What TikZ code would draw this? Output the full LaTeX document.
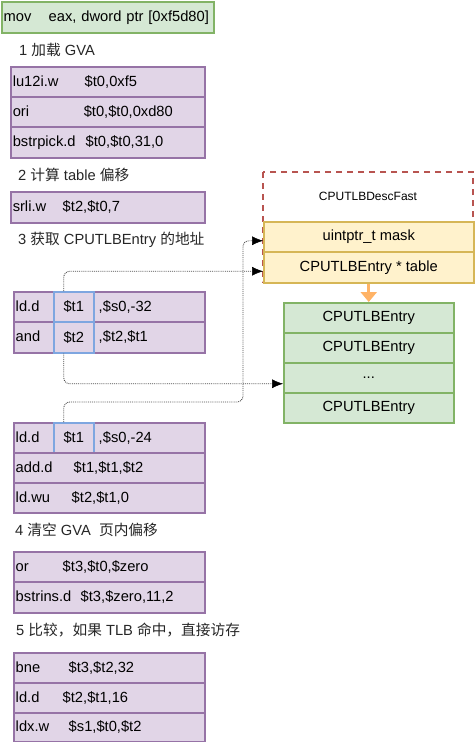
\documentclass[tikz,border=0pt]{standalone}
\usepackage{fontspec}
\setmainfont{Liberation Sans}
\newfontfamily\cjk{Noto Sans CJK SC}
\usetikzlibrary{arrows.meta}

\definecolor{asmfill}{HTML}{E1D5E7}
\definecolor{asmline}{HTML}{9673A6}
\definecolor{regline}{HTML}{7EA6E0}
\definecolor{entfill}{HTML}{D5E8D4}
\definecolor{entline}{HTML}{82B366}
\definecolor{fldfill}{HTML}{FFF2CC}
\definecolor{fldline}{HTML}{D6B656}
\definecolor{descline}{HTML}{B85450}
\definecolor{feedcol}{HTML}{FFB366}

\tikzset{
	txt/.style={font=\fontsize{14.7}{17}\selectfont},
	asm/.style={txt, draw=asmline, fill=asmfill, line width=1.5pt, anchor=north west,
		minimum height=30pt, inner xsep=2pt, inner ysep=0pt, align=left},
	reg/.style={txt, draw=regline, line width=1.5pt, anchor=north west,
		minimum width=40pt, minimum height=30pt, inner sep=0pt},
	ent/.style={txt, draw=entline, fill=entfill, line width=1.5pt, anchor=north west,
		minimum width=170pt, minimum height=30pt},
	fld/.style={txt, draw=fldline, fill=fldfill, line width=1.5pt, anchor=north west,
		minimum width=210pt, minimum height=30pt},
	note/.style={txt, anchor=west, inner sep=0pt, text=black!85},
	link/.style={densely dotted, draw=black!70, line width=0.9pt,
		-{Latex[length=11pt,width=9pt,color=black,line width=0.5pt,sharp]}},
	feed/.style={draw=feedcol, line width=3pt, -{Triangle[length=10pt,width=16pt,sharp]}}
}

\begin{document}
\begin{tikzpicture}[x=1pt,y=-1pt]
	\useasboundingbox (0,0) rectangle (475,742);

	% guest instruction
	\node[asm, draw=entline, fill=entfill, text width=208pt, minimum height=31pt] (mov) at (1,1)
		{\makebox[45pt][l]{mov}eax, dword ptr [0xf5d80]};

	% 1
	\node[note] (s1) at (19,50) {1 {\cjk 加载} GVA};
	\node[asm, text width=190pt] (lui) at (10,66) {\makebox[72pt][l]{lu12i.w}\$t0,0xf5};
	\node[asm, text width=190pt] (ori) at (10,96) {\makebox[71pt][l]{ori}\$t0,\$t0,0xd80};
	\node[asm, text width=190pt, minimum height=31pt] (bpick) at (10,126) {\makebox[73pt][l]{bstrpick.d}\$t0,\$t0,31,0};

	% 2
	\node[note] (s2) at (18,175) {2 {\cjk 计算} table {\cjk 偏移}};
	\node[asm, text width=190pt, minimum height=31pt] (srli) at (10,191) {\makebox[50pt][l]{srli.w}\$t2,\$t0,7};

	% 3
	\node[note] (s3) at (18,240) {3 {\cjk 获取} CPUTLBEntry {\cjk 的地址}};
	\node[asm, text width=187pt] (ldfast) at (13,291) {\makebox[83pt][l]{ld.d},\$s0,-32};
	\node[asm, text width=187pt, minimum height=31pt] (andr) at (13,321) {\makebox[83pt][l]{and},\$t2,\$t1};
	\node[reg] (t1a) at (53,291) {\$t1};
	\node[reg, minimum height=31pt] (t2a) at (53,321) {\$t2};

	\node[asm, text width=187pt] (ldtab) at (13,422) {\makebox[83pt][l]{ld.d},\$s0,-24};
	\node[reg] (t1b) at (53,422) {\$t1};
	\node[asm, text width=187pt] (addd) at (13,452) {\makebox[58pt][l]{add.d}\$t1,\$t1,\$t2};
	\node[asm, text width=187pt] (ldwu) at (13,482) {\makebox[56pt][l]{ld.wu}\$t2,\$t1,0};

	% 4
	\node[note] (s4) at (15,530) {4 {\cjk 清空} GVA\ \ {\cjk 页内偏移}};
	\node[asm, text width=187pt] (orr) at (13,551) {\makebox[47pt][l]{or}\$t3,\$t0,\$zero};
	\node[asm, text width=187pt, minimum height=31pt] (bins) at (13,581) {\makebox[65pt][l]{bstrins.d}\$t3,\$zero,11,2};

	% 5
	\node[note] (s5) at (16,630) {5 {\cjk 比较，如果} TLB {\cjk 命中，直接访存}};
	\node[asm, text width=187pt] (bne) at (13,652) {\makebox[53pt][l]{bne}\$t3,\$t2,32};
	\node[asm, text width=187pt] (ldd) at (13,682) {\makebox[47pt][l]{ld.d}\$t2,\$t1,16};
	\node[asm, text width=187pt, minimum height=29pt] (ldx) at (13,712) {\makebox[53pt][l]{ldx.w}\$s1,\$t0,\$t2};

	% CPUTLBDescFast
	\draw[descline, line width=1.5pt, dash pattern=on 6pt off 5pt] (263,172) rectangle (473,282);
	\node[font=\fontsize{12}{14}\selectfont] (desc) at (368,196) {CPUTLBDescFast};
	\node[fld] (mask) at (263,221) {uintptr\_t mask};
	\node[fld, minimum height=31pt] (table) at (263,251) {CPUTLBEntry * table};

	% table entries
	\node[ent] (e1) at (283,302) {CPUTLBEntry};
	\node[ent] (e2) at (283,332) {CPUTLBEntry};
	\node[ent] (dots) at (283,362) {...};
	\node[ent] (e4) at (283,392) {CPUTLBEntry};

	\draw[feed] (table.south) -- (e1.north);

	\coordinate (turn) at (243,402);
	\draw[link] ([xshift=-10pt]t1a.north) [rounded corners=6pt] |- ([yshift=-4pt]table.west);
	\draw[link] ([xshift=-10pt]t2a.south) [rounded corners=6pt] |- ([yshift=-6pt]dots.west);
	\draw[link] ([xshift=-10pt]t1b.north) [rounded corners=6pt] |- (turn) |- ([yshift=-4pt]mask.west);
\end{tikzpicture}
\end{document}
